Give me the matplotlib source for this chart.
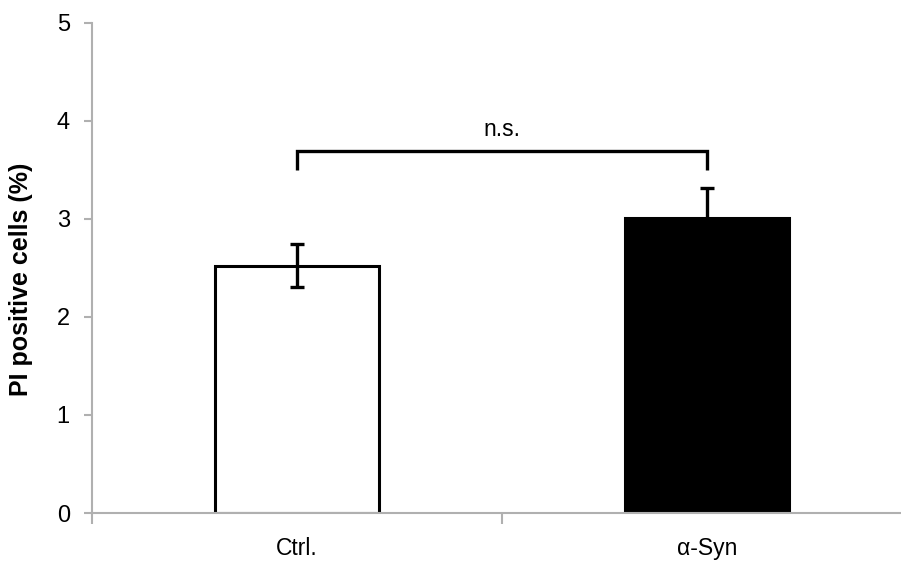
import matplotlib
matplotlib.use("Agg")
import matplotlib.pyplot as plt
from matplotlib.ticker import FixedLocator

plt.rcParams['font.family'] = ['Liberation Sans', 'DejaVu Sans']

categories = ["Ctrl.", "α-Syn"]
means = [2.52, 3.01]
errors = [0.22, 0.30]
colors = ["white", "black"]
sig_label = "n.s."
ylabel = "PI positive cells (%)"
yticks = [0, 1, 2, 3, 4, 5]

W, H = 901, 562
fig = plt.figure(figsize=(W / 100, H / 100), dpi=100)
ax = fig.add_axes([92 / W, 1 - 513 / H, (912 - 92) / W, (513 - 22.7) / H])

x = [0.5 + i for i in range(len(categories))]
ax.bar(x, means, width=0.4, color=colors, edgecolor="black", linewidth=2.2, zorder=2)
ax.errorbar(x, means, yerr=errors, fmt="none", ecolor="black", elinewidth=2.4,
            capsize=5, capthick=2.4, zorder=3)

# significance bracket
y_lo, y_hi = 3.50, 3.69
ax.plot([x[0], x[0], x[1], x[1]], [y_lo, y_hi, y_hi, y_lo], color="black",
        linewidth=2.4, solid_capstyle="butt", solid_joinstyle="miter")
ax.text((x[0] + x[1]) / 2, 3.91, sig_label, ha="center", va="center", fontsize=16.5)

ax.set_xlim(0, len(categories))
ax.set_ylim(0, 5)
ax.set_yticks(yticks)
ax.set_yticklabels([str(t) for t in yticks])
ax.set_xticks(x)
ax.set_xticklabels(categories)
ax.xaxis.set_minor_locator(FixedLocator([0, 1, 2]))
ax.tick_params(axis="x", which="major", length=0, pad=17, labelsize=16.5)
ax.tick_params(axis="x", which="minor", length=8, width=1.5, color="#b0b0b0")
ax.tick_params(axis="y", length=6, width=1.5, color="#b0b0b0", pad=10, labelsize=17)

for s in ["top", "right"]:
    ax.spines[s].set_visible(False)
for s in ["left", "bottom"]:
    ax.spines[s].set_color("#b0b0b0")
    ax.spines[s].set_linewidth(1.5)

ax.set_ylabel(ylabel, fontsize=18, fontweight="bold")
ax.yaxis.set_label_coords(-0.072, 0.477)

fig.savefig("out.png", dpi=100)
